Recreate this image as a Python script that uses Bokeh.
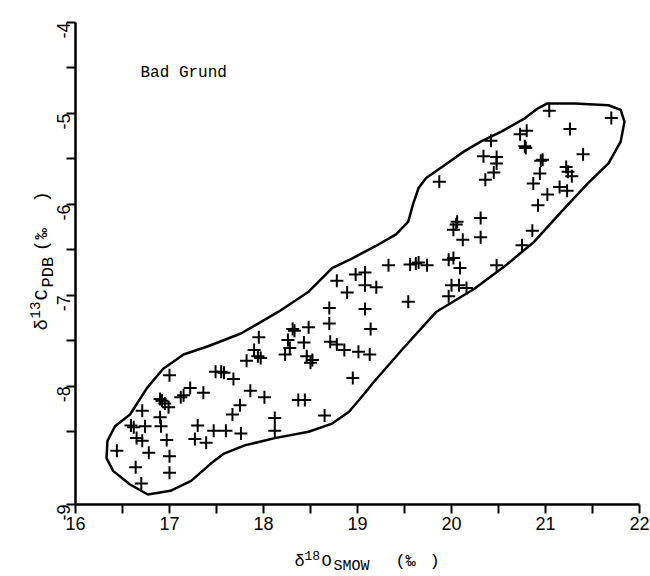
import math
from bokeh.plotting import figure
from bokeh.models import FixedTicker, Label, LinearAxis
from bokeh.embed import file_html
from bokeh.resources import INLINE

# ---- data: delta18O (SMOW) and delta13C (PDB), Bad Grund ----
d18O = [17.00, 17.22, 17.36, 17.12, 17.15, 16.92, 16.95, 16.99, 16.90, 16.71, 16.90, 16.59, 16.62,
        16.74, 16.91, 17.30, 17.47, 17.60, 17.76, 16.65, 16.71, 16.97, 17.27, 17.39, 16.44, 16.78,
        17.00, 16.64, 17.00, 16.70, 17.68, 17.55, 17.49, 17.58, 17.86, 18.01, 17.75, 17.67, 18.12,
        18.12, 18.37, 18.44, 18.65, 18.95, 17.82, 17.90, 17.94, 17.95, 17.97, 18.23, 18.26, 18.28,
        18.31, 18.33, 18.48, 18.43, 18.46, 18.50, 18.52, 18.70, 18.70, 18.71, 18.78, 18.86, 19.01,
        19.08, 18.89, 19.13, 19.14,
        21.04, 21.70, 21.26, 20.80, 20.73, 20.42, 20.79, 20.78, 21.40, 20.34, 20.48, 20.95, 20.97,
        20.48, 21.22, 21.24, 21.28, 20.94, 20.45, 20.36, 20.87, 21.15, 21.23, 21.02, 19.87, 20.92,
        20.31, 20.06, 20.05, 20.02, 20.12, 20.31, 20.86, 20.75, 20.48, 19.33, 19.56, 19.62, 19.65,
        19.74, 19.97, 20.02, 20.09, 18.78, 18.98, 19.08, 19.08, 19.20, 19.54, 20.00, 20.08, 20.16,
        19.97]
d13C = [-7.88, -8.02, -8.07, -8.12, -8.10, -8.16, -8.19, -8.23, -8.14, -8.27, -8.34, -8.43, -8.45,
        -8.44, -8.44, -8.43, -8.49, -8.49, -8.52, -8.57, -8.60, -8.59, -8.58, -8.62, -8.71, -8.73,
        -8.77, -8.89, -8.95, -9.07, -7.92, -7.84, -7.84, -7.85, -8.05, -8.12, -8.21, -8.31, -8.35,
        -8.49, -8.15, -8.15, -8.32, -7.91, -7.72, -7.60, -7.67, -7.46, -7.69, -7.65, -7.49, -7.58,
        -7.37, -7.39, -7.35, -7.52, -7.67, -7.74, -7.71, -7.14, -7.31, -7.51, -7.54, -7.60, -7.62,
        -7.15, -6.97, -7.65, -7.37,
        -4.97, -5.05, -5.17, -5.19, -5.23, -5.30, -5.38, -5.36, -5.45, -5.47, -5.48, -5.52, -5.51,
        -5.55, -5.59, -5.64, -5.69, -5.66, -5.65, -5.73, -5.77, -5.81, -5.85, -5.89, -5.75, -6.01,
        -6.15, -6.19, -6.22, -6.28, -6.39, -6.36, -6.29, -6.45, -6.67, -6.67, -6.66, -6.65, -6.64,
        -6.67, -6.61, -6.59, -6.70, -6.84, -6.77, -6.75, -6.89, -6.91, -7.07, -6.89, -6.89, -6.92,
        -7.01]

# enclosing field boundary
outline_x = [21.80, 21.67, 21.31, 21.02, 20.91, 20.77, 20.53, 20.31, 20.13, 19.91, 19.73, 19.65,
             19.59, 19.54, 19.41, 19.19, 18.95, 18.73, 18.48, 18.16, 17.76, 17.41, 17.15, 16.93,
             16.76, 16.58, 16.42, 16.34, 16.33, 16.40, 16.58, 16.77, 17.01, 17.23, 17.44, 17.58,
             17.80, 18.12, 18.48, 18.73, 18.91, 19.09, 19.16, 19.48, 19.84, 20.24, 20.59, 20.88,
             21.17, 21.45, 21.67, 21.80, 21.84]
outline_y = [-4.96, -4.91, -4.89, -4.89, -4.95, -5.06, -5.20, -5.31, -5.42, -5.58, -5.71, -5.82,
             -6.00, -6.19, -6.33, -6.46, -6.59, -6.70, -6.96, -7.18, -7.42, -7.56, -7.65, -7.81,
             -8.02, -8.31, -8.44, -8.60, -8.79, -8.93, -9.08, -9.19, -9.15, -9.04, -8.85, -8.74,
             -8.65, -8.57, -8.50, -8.41, -8.28, -8.06, -7.97, -7.59, -7.18, -6.93, -6.66, -6.41,
             -6.08, -5.77, -5.55, -5.31, -5.09]

x_ticks = [16, 16.5, 17, 17.5, 18, 18.5, 19, 19.5, 20, 20.5, 21, 21.5, 22]
x_tick_labels = ["16", "", "17", "", "18", "", "19", "", "20", "", "21", "", "22"]
y_ticks = [-9.3, -8.5, -8, -7.5, -7, -6.5, -6, -5.5, -5, -4.5, -4]
y_tick_labels = ["-9", "", "-8", "", "-7", "", "-6", "", "-5", "", "-4"]

# ---- geometry (pixels) ----
W, H = 650, 576
FL, FR, FT, FB = 75, 639, 22, 504          # where the axes' ends sit on the canvas
X0, X1 = 16.0, 22.0
Y0, Y1 = -9.3, -4.0
PPX = (FR - FL) / (X1 - X0)
PPY = (FB - FT) / (Y1 - Y0)

# the frame covers the whole canvas so that axis titles are not clipped;
# the axes are drawn at fixed locations
p = figure(width=W, height=H,
           x_range=(X0 - FL / PPX, X1 + (W - FR) / PPX),
           y_range=(Y0 - (H - FB) / PPY, Y1 + FT / PPY),
           output_backend="svg", toolbar_location=None,
           x_axis_location=None, y_axis_location=None, min_border=0)
p.outline_line_color = None
p.background_fill_color = "white"
p.border_fill_color = "white"
p.grid.visible = False

xaxis = LinearAxis(fixed_location=Y0, bounds=(X0, X1))
yaxis = LinearAxis(fixed_location=X0, bounds=(Y0, Y1))
for ax, ticks, labels in ((xaxis, x_ticks, x_tick_labels), (yaxis, y_ticks, y_tick_labels)):
    ax.ticker = FixedTicker(ticks=ticks)
    ax.major_label_overrides = {t: l for t, l in zip(ticks, labels)}
    ax.axis_line_width = 2.5
    ax.axis_line_color = "black"
    ax.major_tick_line_width = 2
    ax.major_tick_line_color = "black"
    ax.major_tick_out = 9
    ax.major_tick_in = 0
    ax.minor_tick_line_color = None
    ax.major_label_text_font = "Liberation Sans"
    ax.major_label_text_font_size = "18px"
    ax.major_label_text_color = "black"
    ax.major_label_standoff = 3
yaxis.major_label_orientation = math.pi / 2
p.add_layout(xaxis, "below")
p.add_layout(yaxis, "left")

p.patch(outline_x, outline_y, fill_color=None, line_color="black", line_width=2.5,
        line_join="round")
p.scatter(d18O, d13C, marker="cross", size=13, line_width=2, line_color="black")


def px2x(px):
    return X0 + (px - FL) / PPX


def py2y(py):
    return Y1 - (py - FT) / PPY


def txt(px, py, text, size, angle=0.0, baseline="alphabetic"):
    p.add_layout(Label(x=px2x(px), y=py2y(py), text=text, angle=angle,
                       text_font="Liberation Mono", text_font_size=f"{size}px",
                       text_baseline=baseline, text_align="left", text_color="black"))


txt(140, 72, "Bad Grund", 16, baseline="middle")

# x-axis title: δ18O SMOW (‰ )
txt(294, 561, "δ", 17)
txt(304, 555, "18", 13)
txt(321, 561, "O", 17)
txt(333, 566, "SMOW", 15)
txt(395, 561, "(", 17)
txt(405, 561, "‰", 17)
txt(429, 561, ")", 17)

# y-axis title: δ13C PDB (‰ ), rotated, reading upwards
A = math.pi / 2
txt(41, 330, "δ", 19, angle=A)
txt(34, 318, "13", 14, angle=A)
txt(41, 300, "C", 19, angle=A)
txt(48, 287, "PDB", 17, angle=A)
txt(41, 251, "(", 19, angle=A)
txt(41, 239, "‰", 19, angle=A)
txt(41, 202, ")", 19, angle=A)

open("out.html", "w").write(file_html(p, INLINE))
